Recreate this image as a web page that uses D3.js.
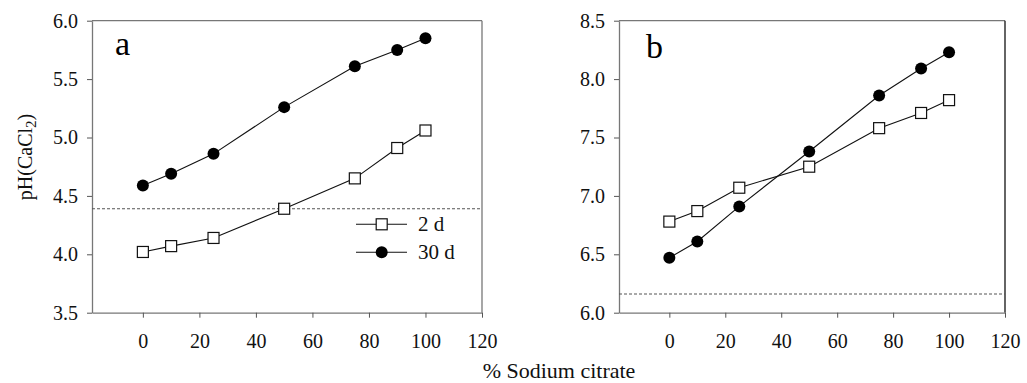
<!DOCTYPE html>
<html>
<head>
<meta charset="utf-8">
<script src="https://cdn.jsdelivr.net/npm/d3@7"></script>
</head>
<body style="margin:0">
<script>
// data
var citrate = [0, 10, 25, 50, 75, 90, 100];
var phA2d  = [4.02, 4.07, 4.14, 4.39, 4.65, 4.91, 5.06];
var phA30d = [4.59, 4.69, 4.86, 5.26, 5.61, 5.75, 5.85];
var phB2d  = [6.78, 6.87, 7.07, 7.25, 7.58, 7.71, 7.82];
var phB30d = [6.47, 6.61, 6.91, 7.38, 7.86, 8.09, 8.23];
var refA = 4.39, refB = 6.16;
var xTicks = [0, 20, 40, 60, 80, 100, 120];
var yTicksA = [3.5, 4.0, 4.5, 5.0, 5.5, 6.0];
var yTicksB = [6.0, 6.5, 7.0, 7.5, 8.0, 8.5];
var seriesNames = ["2 d", "30 d"];

var W = 1027, H = 383;
var FONT = "'Times New Roman', 'Liberation Serif', serif";

var svg = d3.select("body").append("svg")
  .attr("width", W)
  .attr("height", H)
  .style("font-family", FONT);

var panels = [
  { label: "a", left: 92, right: 482, yDomain: [3.5, 6.0], yTicks: yTicksA, s2: phA2d, s30: phA30d, ref: refA, legend: true, rightColor: "#777", lblX: 115, lblY: 55 },
  { label: "b", left: 619, right: 1005, yDomain: [6.0, 8.5], yTicks: yTicksB, s2: phB2d, s30: phB30d, ref: refB, legend: false, rightColor: "#111", lblX: 646, lblY: 58 }
];
var plotTop = 20.7, plotBottom = 312.7;

panels.forEach(function(p) {
  var x = d3.scaleLinear().domain([-18, 120]).range([p.left, p.right]);
  var y = d3.scaleLinear().domain(p.yDomain).range([plotBottom, plotTop]);
  var g = svg.append("g");

  // frame (top + right)
  g.append("line").attr("x1", p.left).attr("x2", p.right).attr("y1", plotTop).attr("y2", plotTop)
    .attr("stroke", "#777").attr("stroke-width", 1.3);
  g.append("line").attr("x1", p.right).attr("x2", p.right).attr("y1", plotTop).attr("y2", plotBottom)
    .attr("stroke", p.rightColor).attr("stroke-width", 1.3);

  var xAxis = d3.axisBottom(x).tickValues(xTicks).tickSize(5).tickPadding(16).tickSizeOuter(0)
    .tickFormat(d3.format("d"));
  var yAxis = d3.axisLeft(y).tickValues(p.yTicks).tickSize(5).tickPadding(9).tickSizeOuter(0)
    .tickFormat(d3.format(".1f"));

  var gx = g.append("g").attr("transform", "translate(0," + plotBottom + ")").call(xAxis);
  var gy = g.append("g").attr("transform", "translate(" + p.left + ",0)").call(yAxis);
  [gx, gy].forEach(function(ax) {
    ax.attr("font-family", null).attr("font-size", null);
    ax.select(".domain").attr("stroke", "#777").attr("stroke-width", 1.3);
    ax.selectAll(".tick line").attr("stroke", "#555");
    ax.selectAll(".tick text")
      .style("font-size", "20px")
      .attr("fill", "#111");
  });

  // reference dotted line
  g.append("line")
    .attr("x1", p.left).attr("x2", p.right)
    .attr("y1", y(p.ref)).attr("y2", y(p.ref))
    .attr("stroke", "#555").attr("stroke-width", 1.1)
    .attr("stroke-dasharray", "3,2");

  var line = d3.line().x(function(d, i) { return x(citrate[i]); }).y(function(d) { return y(d); });

  [p.s2, p.s30].forEach(function(s) {
    g.append("path").datum(s)
      .attr("d", line)
      .attr("fill", "none")
      .attr("stroke", "#111")
      .attr("stroke-width", 1.1);
  });

  // 30 d: filled circles
  g.selectAll(".c30").data(p.s30).enter().append("circle")
    .attr("cx", function(d, i) { return x(citrate[i]); })
    .attr("cy", function(d) { return y(d); })
    .attr("r", 6)
    .attr("fill", "#000");

  // 2 d: open squares
  g.selectAll(".s2").data(p.s2).enter().append("rect")
    .attr("x", function(d, i) { return x(citrate[i]) - 5.5; })
    .attr("y", function(d) { return y(d) - 5.5; })
    .attr("width", 11).attr("height", 11)
    .attr("fill", "#fff")
    .attr("stroke", "#111")
    .attr("stroke-width", 1.2);

  g.append("text")
    .attr("x", p.lblX).attr("y", p.lblY)
    .style("font-size", "34px")
    .attr("fill", "#000")
    .text(p.label);

  if (p.legend) {
    var lg = g.append("g");
    seriesNames.forEach(function(name, i) {
      var ly = 224.3 + i * 28;
      lg.append("line").attr("x1", 356).attr("x2", 407).attr("y1", ly).attr("y2", ly)
        .attr("stroke", "#111").attr("stroke-width", 1.1);
      if (i === 0) {
        lg.append("rect").attr("x", 381.7 - 5.5).attr("y", ly - 5.5).attr("width", 11).attr("height", 11)
          .attr("fill", "#fff").attr("stroke", "#111").attr("stroke-width", 1.2);
      } else {
        lg.append("circle").attr("cx", 381.7).attr("cy", ly).attr("r", 6).attr("fill", "#000");
      }
      lg.append("text")
        .attr("x", 418).attr("y", ly + 6.5)
        .style("font-size", "21px")
        .attr("fill", "#111")
        .text(name);
    });
  }
});

// axis titles
svg.append("text")
  .attr("x", 559).attr("y", 378)
  .attr("text-anchor", "middle")
  .style("font-size", "22px")
  .attr("fill", "#111")
  .text("% Sodium citrate");

var yt = svg.append("text")
  .attr("transform", "translate(32,157) rotate(-90)")
  .attr("text-anchor", "middle")
  .style("font-size", "20px")
  .attr("fill", "#111");
yt.append("tspan").text("pH(CaCl");
yt.append("tspan").attr("dy", 4).style("font-size", "15px").text("2");
yt.append("tspan").attr("dy", -4).text(")");
</script>
</body>
</html>
